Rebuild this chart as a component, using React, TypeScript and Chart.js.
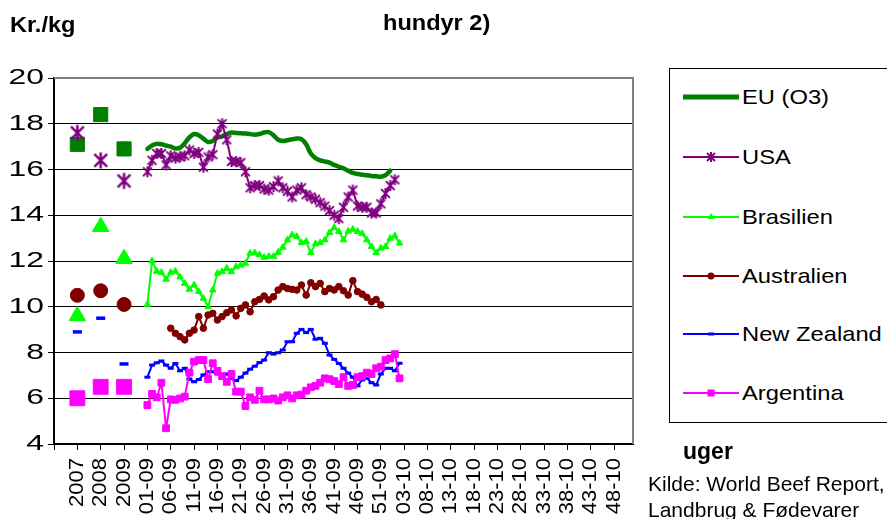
import React, { useEffect, useRef } from 'react';
import { Chart, registerables } from 'chart.js';

Chart.register(...registerables);

// ---------- categories ----------
const weeks2009 = Array.from({ length: 53 }, (_, i) => `${String(i + 1).padStart(2, '0')}-09`);
const weeks2010 = Array.from({ length: 52 }, (_, i) => `${String(i + 1).padStart(2, '0')}-10`);
const yearCategories = ['2007', '2008', '2009'];
const categories: string[] = [
  '', '', '', '', '',
  '2007', '', '', '', '',
  '2008', '', '', '', '',
  '2009', '', '', '', '',
  ...weeks2009,
  ...weeks2010,
];

// ---------- yearly averages ----------
const euYearly = [17.1, 18.4, 16.9];
const usaYearly = [17.6, 16.4, 15.5];
const brasilienYearly = [9.6, 13.5, 12.1];
const australienYearly = [10.5, 10.7, 10.1];
const nzYearly = [8.9, 9.5, 7.5];
const argentinaYearly = [6.0, 6.5, 6.5];

// ---------- weekly prices (start label + values) ----------
const euStart = '01-09';
const euWeekly = [16.9, 17.05, 17.12, 17.1, 17.05, 17.0, 16.92, 16.95, 17.15, 17.4, 17.55, 17.5, 17.35, 17.2, 17.25, 17.4, 17.45, 17.55, 17.62, 17.6, 17.58, 17.57, 17.55, 17.52, 17.55, 17.62, 17.63, 17.5, 17.3, 17.25, 17.28, 17.32, 17.35, 17.33, 17.1, 16.7, 16.5, 16.4, 16.35, 16.3, 16.2, 16.12, 16.05, 15.95, 15.85, 15.8, 15.77, 15.75, 15.72, 15.7, 15.68, 15.75, 15.95];
const usaStart = '01-09';
const usaWeekly = [15.9, 16.4, 16.7, 16.7, 16.2, 16.6, 16.5, 16.55, 16.6, 16.85, 16.7, 16.75, 16.1, 16.55, 16.65, 17.55, 18.0, 17.3, 16.35, 16.35, 16.3, 15.9, 15.2, 15.3, 15.3, 15.15, 15.1, 15.25, 15.5, 15.2, 15.05, 14.8, 15.1, 15.2, 14.9, 14.8, 14.7, 14.55, 14.4, 14.2, 14.0, 13.85, 14.35, 14.8, 15.1, 14.4, 14.35, 14.35, 14.1, 14.1, 14.5, 14.95, 15.3, 15.55];
const brasilienStart = '01-09';
const brasilienWeekly = [10.1, 12.0, 11.55, 11.5, 11.2, 11.5, 11.55, 11.3, 11.02, 10.76, 10.95, 10.66, 10.37, 10.0, 10.73, 11.46, 11.53, 11.68, 11.53, 11.75, 11.82, 11.9, 12.34, 12.36, 12.27, 12.16, 12.2, 12.2, 12.38, 12.6, 12.92, 13.14, 13.07, 12.8, 12.85, 12.36, 12.75, 12.8, 12.92, 13.24, 13.46, 13.29, 12.92, 13.3, 13.38, 13.29, 13.2, 12.92, 12.63, 12.36, 12.56, 12.63, 12.99, 13.1, 12.78];
const australienStart = '06-09';
const australienWeekly = [9.06, 8.84, 8.69, 8.55, 8.84, 8.98, 9.57, 9.06, 9.64, 9.71, 9.42, 9.57, 9.74, 9.86, 9.6, 9.93, 10.08, 9.78, 10.22, 10.32, 10.47, 10.3, 10.44, 10.73, 10.88, 10.8, 10.76, 10.73, 10.95, 10.51, 11.05, 10.88, 11.02, 10.66, 10.8, 10.73, 10.88, 10.7, 10.51, 11.14, 10.66, 10.55, 10.41, 10.22, 10.32, 10.08];
const nzStart = '01-09';
const nzWeekly = [6.92, 7.45, 7.55, 7.63, 7.45, 7.31, 7.52, 7.2, 7.31, 6.84, 6.72, 6.82, 7.02, 7.16, 7.16, 7.06, 7.02, 7.06, 6.87, 6.77, 6.92, 7.1, 7.27, 7.4, 7.56, 7.67, 7.99, 7.93, 7.99, 8.11, 8.47, 8.47, 8.84, 9.01, 8.87, 9.01, 8.58, 8.62, 8.4, 7.89, 7.7, 7.52, 7.31, 7.1, 6.92, 6.54, 6.8, 6.87, 6.68, 6.58, 7.06, 7.31, 7.31, 7.2, 7.53];
const argentinaStart = '01-09';
const argentinaWeekly = [5.7, 6.19, 6.04, 6.68, 4.69, 5.95, 5.93, 5.99, 6.07, 7.12, 7.6, 7.67, 7.67, 6.84, 7.53, 7.2, 6.97, 6.72, 7.06, 6.29, 6.29, 5.66, 6.04, 5.93, 6.33, 5.95, 5.95, 5.99, 5.9, 6.04, 6.13, 5.99, 6.13, 6.16, 6.33, 6.48, 6.54, 6.68, 6.87, 6.83, 6.75, 6.62, 6.92, 6.54, 6.58, 6.92, 6.97, 7.12, 7.06, 7.31, 7.38, 7.67, 7.74, 7.93, 6.87];

const seriesNames = ['EU (O3)', 'USA', 'Brasilien', 'Australien', 'New Zealand', 'Argentina'];
const seriesColors = ['#008000', '#800080', '#00FF00', '#800000', '#0000FF', '#FF00FF'];

const FONT = "'Liberation Sans', Arial, sans-serif";

function placeWeekly(values: number[], start: string): (number | null)[] {
  const arr: (number | null)[] = categories.map(() => null);
  const s = categories.indexOf(start);
  values.forEach((v, i) => {
    arr[s + i] = v;
  });
  return arr;
}

function placeYearly(values: number[]): (number | null)[] {
  const arr: (number | null)[] = categories.map(() => null);
  yearCategories.forEach((y, i) => {
    arr[categories.indexOf(y)] = values[i];
  });
  return arr;
}

function asteriskCanvas(r: number, lw: number, color: string): HTMLCanvasElement {
  const c = document.createElement('canvas');
  const size = Math.ceil(2 * r + lw + 2);
  c.width = size;
  c.height = size;
  const g = c.getContext('2d')!;
  const m = size / 2;
  g.strokeStyle = color;
  g.lineWidth = lw;
  g.lineCap = 'butt';
  g.beginPath();
  const d = r * 0.8;
  g.moveTo(m - d, m - d);
  g.lineTo(m + d, m + d);
  g.moveTo(m + d, m - d);
  g.lineTo(m - d, m + d);
  g.moveTo(m, m - r);
  g.lineTo(m, m + r);
  g.stroke();
  return c;
}

const plotBorder = {
  id: 'plotBorder',
  beforeDatasetsDraw(chart: any) {
    const { ctx, chartArea } = chart;
    ctx.save();
    ctx.strokeStyle = '#808080';
    ctx.lineWidth = 2;
    ctx.beginPath();
    ctx.moveTo(chartArea.left, chartArea.top);
    ctx.lineTo(chartArea.right, chartArea.top);
    ctx.lineTo(chartArea.right, chartArea.bottom);
    ctx.stroke();
    ctx.restore();
  },
};

// widen the tick label glyphs (the reference type is stretched), keeping the
// library's own tick label rendering and positions
const Y_LABEL_STRETCH = 1.45;
const X_LABEL_STRETCH = 1.1;
const stretchLabels = {
  id: 'stretchLabels',
  afterUpdate(chart: any) {
    const ys = chart.scales.y;
    const xs = chart.scales.x;
    if (ys && !ys.__stretched) {
      const orig = ys.drawLabels;
      ys.drawLabels = function (area: any) {
        const ctx = this.ctx;
        const xa = this.right - 10;
        ctx.save();
        ctx.translate(xa, 0);
        ctx.scale(Y_LABEL_STRETCH, 1);
        ctx.translate(-xa, 0);
        orig.call(this, area);
        ctx.restore();
      };
      ys.__stretched = true;
    }
    if (xs && !xs.__stretched) {
      const orig = xs.drawLabels;
      xs.drawLabels = function (area: any) {
        const ctx = this.ctx;
        const ya = this.top + 14;
        ctx.save();
        ctx.translate(0, ya);
        ctx.scale(1, X_LABEL_STRETCH);
        ctx.translate(0, -ya);
        orig.call(this, area);
        ctx.restore();
      };
      xs.__stretched = true;
    }
  },
};

function LegendMarker({ index }: { index: number }) {
  const color = seriesColors[index];
  const lw = index === 0 ? 5 : 2;
  let marker: React.ReactNode = null;
  if (index === 1) {
    marker = (
      <g stroke={color} strokeWidth={2}>
        <line x1={24} y1={4} x2={32} y2={12} />
        <line x1={32} y1={4} x2={24} y2={12} />
        <line x1={28} y1={3} x2={28} y2={13} />
      </g>
    );
  } else if (index === 2) {
    marker = <polygon points="28,4 31.5,10 24.5,10" fill={color} />;
  } else if (index === 3) {
    marker = <circle cx={28} cy={8} r={3.5} fill={color} />;
  } else if (index === 4) {
    marker = <rect x={25} y={6.5} width={6} height={3} fill={color} />;
  } else if (index === 5) {
    marker = <rect x={24.5} y={4.5} width={7} height={7} fill={color} />;
  }
  return (
    <svg width={56} height={16} style={{ display: 'block' }}>
      <line x1={0} y1={8} x2={56} y2={8} stroke={color} strokeWidth={lw} />
      {marker}
    </svg>
  );
}

const legendY = [97, 157, 217, 276, 334, 393];

export default function App() {
  const canvasRef = useRef<HTMLCanvasElement | null>(null);

  useEffect(() => {
    if (!canvasRef.current) return;
    const starSmall = asteriskCanvas(5.5, 2, seriesColors[1]);
    const starBig = asteriskCanvas(8, 2.5, seriesColors[1]);

    const weeklyStarts = [euStart, usaStart, brasilienStart, australienStart, nzStart, argentinaStart];
    const weeklyValues = [euWeekly, usaWeekly, brasilienWeekly, australienWeekly, nzWeekly, argentinaWeekly];
    const yearlyValues = [euYearly, usaYearly, brasilienYearly, australienYearly, nzYearly, argentinaYearly];

    const weeklyPoint: any[] = [
      { pointStyle: false, pointRadius: 0 },
      { pointStyle: starSmall, pointRadius: 5.5 },
      { pointStyle: 'triangle', pointRadius: 3.8 },
      { pointStyle: 'circle', pointRadius: 3.3 },
      { pointStyle: 'line', pointRadius: 3, pointBorderWidth: 3 },
      { pointStyle: 'rect', pointRadius: 4.8 },
    ];
    const yearlyPoint: any[] = [
      { pointStyle: 'rect', pointRadius: 10 },
      { pointStyle: starBig, pointRadius: 8 },
      { pointStyle: 'triangle', pointRadius: 9.5 },
      { pointStyle: 'circle', pointRadius: 7 },
      { pointStyle: 'line', pointRadius: 4.5, pointBorderWidth: 3.5 },
      { pointStyle: 'rect', pointRadius: 10.5 },
    ];

    const datasets: any[] = [];
    seriesNames.forEach((name, i) => {
      datasets.push({
        label: name,
        data: placeWeekly(weeklyValues[i], weeklyStarts[i]),
        borderColor: seriesColors[i],
        backgroundColor: seriesColors[i],
        pointBackgroundColor: seriesColors[i],
        pointBorderColor: seriesColors[i],
        borderWidth: i === 0 ? 4.5 : 2,
        pointBorderWidth: 1,
        spanGaps: false,
        tension: i === 0 ? 0.3 : 0,
        order: 12 - i,
        ...weeklyPoint[i],
      });
      datasets.push({
        label: name + ' år',
        data: placeYearly(yearlyValues[i]),
        showLine: false,
        borderColor: seriesColors[i],
        backgroundColor: seriesColors[i],
        pointBackgroundColor: seriesColors[i],
        pointBorderColor: seriesColors[i],
        pointBorderWidth: 1,
        order: 6 - i,
        ...yearlyPoint[i],
      });
    });

    const chart = new Chart(canvasRef.current, {
      type: 'line',
      data: { labels: categories, datasets },
      plugins: [plotBorder, stretchLabels],
      options: {
        animation: false,
        responsive: false,
        maintainAspectRatio: false,
        layout: { padding: { left: 0, right: 254, top: 78, bottom: 0 } },
        plugins: {
          legend: { display: false },
          tooltip: { enabled: false },
          title: { display: false },
        },
        elements: { line: { borderCapStyle: 'round', borderJoinStyle: 'round' } },
        scales: {
          x: {
            type: 'category',
            offset: false,
            afterFit: (scale: any) => {
              scale.height = 75;
            },
            border: { display: true, color: '#000', width: 2 },
            grid: {
              drawOnChartArea: false,
              drawTicks: true,
              tickLength: 6,
              offset: false,
              color: 'rgba(0,0,0,0)',
              tickColor: (ctx: any) => (ctx.index % 5 === 0 ? '#000' : 'rgba(0,0,0,0)'),
              tickWidth: 1,
            },
            ticks: {
              autoSkip: false,
              maxRotation: 90,
              minRotation: 90,
              padding: 8,
              color: '#000',
              font: { family: FONT, size: 20 },
              callback: (_v: any, index: number) => (index % 5 === 0 ? categories[index] : ''),
            },
          },
          y: {
            min: 4,
            max: 20,
            afterFit: (scale: any) => {
              scale.width = 54;
            },
            border: { display: true, color: '#000', width: 2 },
            grid: {
              color: (ctx: any) => (ctx.tick && ctx.tick.value === 20 ? '#808080' : '#000'),
              lineWidth: 1,
              tickLength: 6,
              tickColor: '#000',
            },
            ticks: {
              stepSize: 2,
              padding: 4,
              color: '#000',
              font: { family: FONT, size: 22 },
            },
          },
        },
      },
    });
    return () => chart.destroy();
  }, []);

  const textBase: React.CSSProperties = {
    position: 'absolute',
    fontFamily: FONT,
    color: '#000',
    lineHeight: 1,
    whiteSpace: 'nowrap',
    transformOrigin: '0 0',
  };

  return (
    <div style={{ position: 'fixed', left: 0, top: 0, width: 887, height: 519, overflow: 'hidden', background: '#fff' }}>
      <canvas ref={canvasRef} width={887} height={519} style={{ position: 'absolute', left: 0, top: 0 }} />
      <div style={{ ...textBase, left: 10, top: 14, fontSize: 22, fontWeight: 'bold', transform: 'scaleX(1.07)' }}>Kr./kg</div>
      <div style={{ ...textBase, left: 383, top: 12, fontSize: 22, fontWeight: 'bold', transform: 'scaleX(1.07)' }}>hundyr 2)</div>
      <div
        style={{
          position: 'absolute',
          left: 669,
          top: 68,
          width: 320,
          height: 355,
          borderLeft: '1px solid #000',
          borderTop: '1px solid #000',
          borderBottom: '1px solid #000',
          boxSizing: 'border-box',
          background: '#fff',
        }}
      />
      {seriesNames.map((name, i) => (
        <React.Fragment key={name}>
          <div style={{ position: 'absolute', left: 683, top: legendY[i] - 8 }}>
            <LegendMarker index={i} />
          </div>
          <div style={{ ...textBase, left: 742, top: legendY[i] - 11, fontSize: 21, transform: 'scaleX(1.13)' }}>{name}</div>
        </React.Fragment>
      ))}
      <div style={{ ...textBase, left: 683, top: 440, fontSize: 23, fontWeight: 'bold' }}>uger</div>
      <div style={{ ...textBase, left: 648, top: 473, fontSize: 21 }}>Kilde: World Beef Report,</div>
      <div style={{ ...textBase, left: 648, top: 499, fontSize: 21 }}>Landbrug &amp; Fødevarer</div>
    </div>
  );
}
